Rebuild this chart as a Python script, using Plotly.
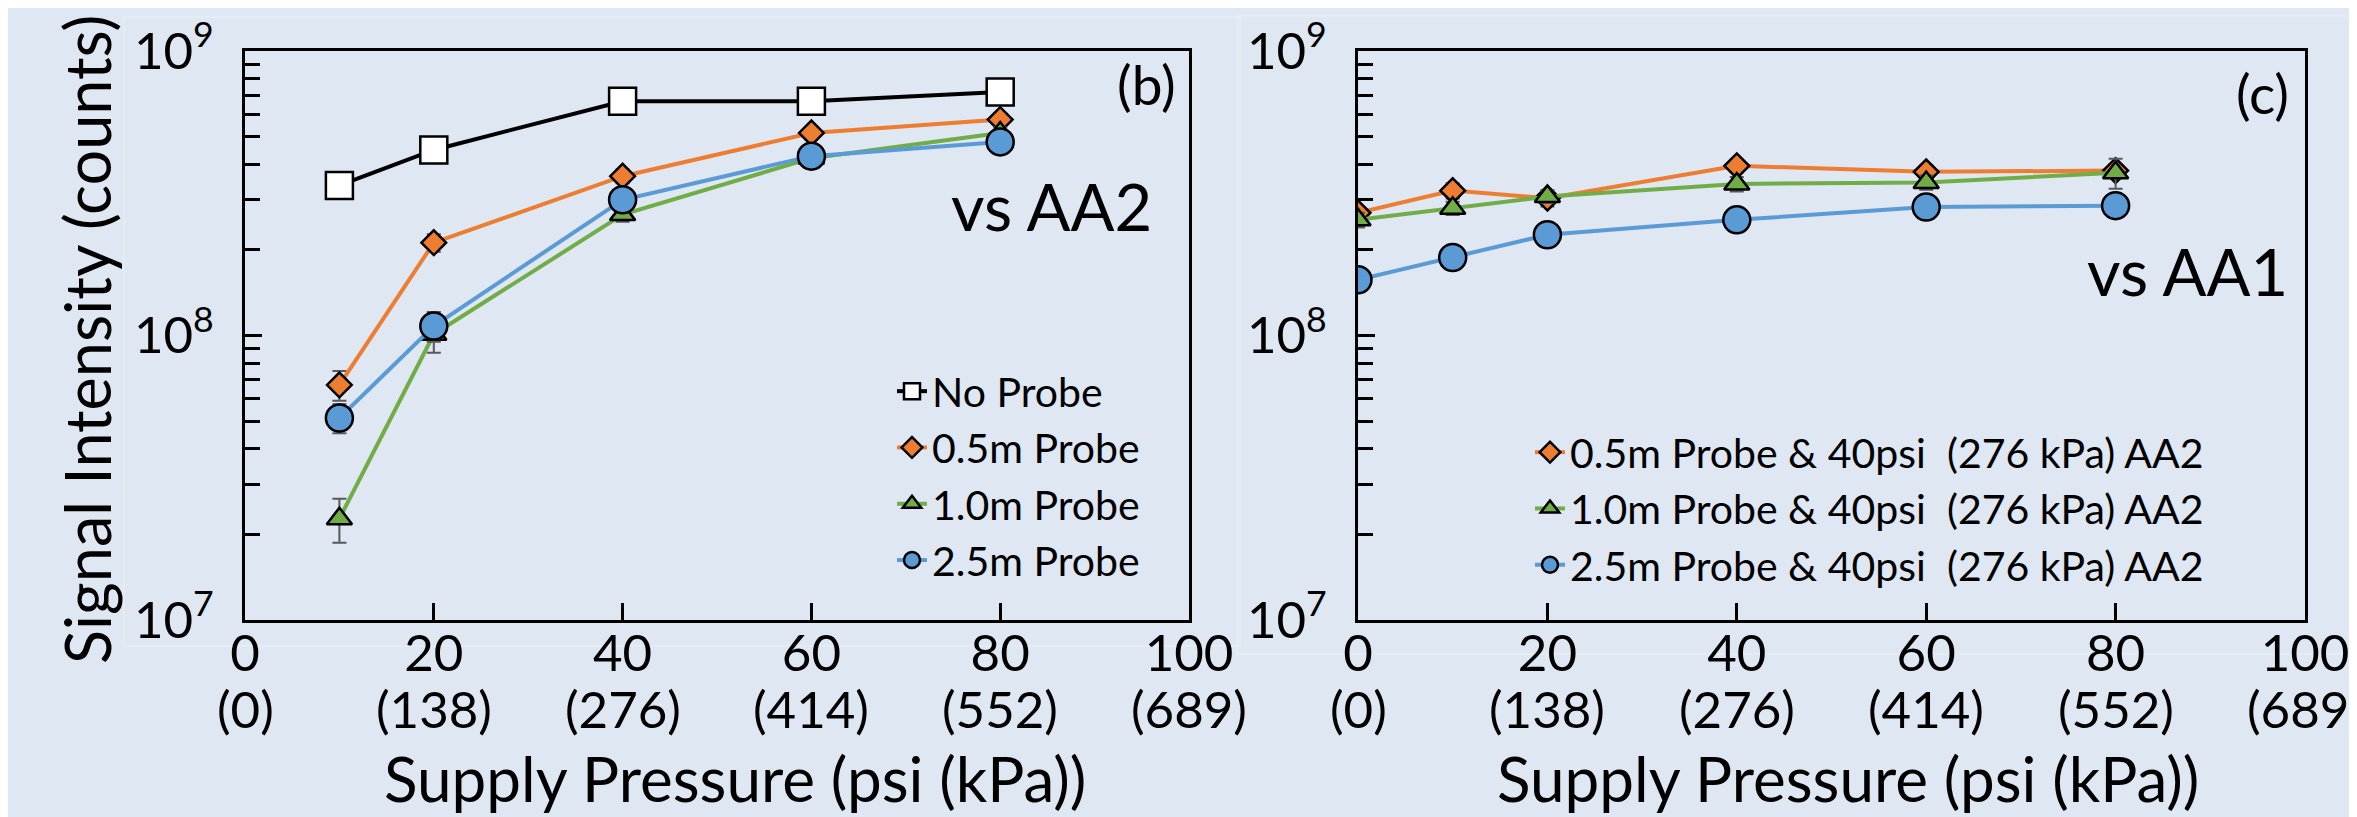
import plotly.graph_objects as go

# ---------------- data ----------------
x_left = [10, 20, 40, 60, 80]
no_probe = [3.37e8, 4.49e8, 6.66e8, 6.66e8, 7.18e8]
probe05_b = [6.7e7, 2.12e8, 3.63e8, 5.15e8, 5.74e8]
probe10_b = [2.27e7, 1.01e8, 2.66e8, 4.2e8, 5.15e8]
probe25_b = [5.13e7, 1.08e8, 3.0e8, 4.27e8, 4.79e8]
err05_b = [8e6, 1.5e7, 2e7, 2.5e7, 3e7]
err10_b = [4e6, 1.4e7, 1.5e7, 2.5e7, 2.5e7]
err25_b = [6e6, 1.3e7, 1.5e7, 2e7, 2e7]

x_right = [0, 10, 20, 40, 60, 80]
probe05_c = [2.7e8, 3.23e8, 3.04e8, 3.95e8, 3.76e8, 3.8e8]
probe10_c = [2.55e8, 2.8e8, 3.08e8, 3.41e8, 3.45e8, 3.73e8]
probe25_c = [1.57e8, 1.88e8, 2.26e8, 2.55e8, 2.83e8, 2.86e8]
err05_c = [3e7, 2e7, 2e7, 2e7, 2e7, 2e7]
err10_c = [1.5e7, 1.5e7, 1.5e7, 2e7, 2e7, 4.5e7]
err25_c = [1e7, 1e7, 1e7, 1e7, 1e7, 1e7]

names_b = ["No Probe", "0.5m Probe", "1.0m Probe", "2.5m Probe"]
names_c = ["0.5m Probe & 40psi", "1.0m Probe & 40psi", "2.5m Probe & 40psi"]
names_c_suffix = "(276 kPa) AA2"

x_tickvals = [0, 20, 40, 60, 80, 100]
x_ticktext = ["0", "20", "40", "60", "80", "100"]
x_kpa_text = ["(0)", "(138)", "(276)", "(414)", "(552)", "(689)"]
y_tickvals = [1e7, 1e8, 1e9]
y_ticktext = ["10<sup>7</sup>", "10<sup>8</sup>", "10<sup>9</sup>"]
y_minorvals = [m * 10 ** e for e in (7, 8) for m in range(2, 10)]

# ---------------- style ----------------
FONT = "Lato"
BG = "#dee7f2"
C_BLACK = "#000000"
C_ORANGE = "#ED7D31"
C_GREEN = "#70AD47"
C_BLUE = "#5B9BD5"
ERR_COLOR = "#595959"
W, H = 2357, 817

fig = go.Figure()


def add(x, y, err, name, color, symbol, size, fill, xa, ya, legend, group):
    fig.add_trace(go.Scatter(
        x=x, y=y, name=name, mode="lines+markers",
        line=dict(color=color, width=4),
        marker=dict(symbol=symbol, size=size, color=fill,
                    line=dict(color="black", width=2.5)),
        error_y=dict(type="data", array=err, visible=err is not None,
                     color=ERR_COLOR, thickness=2, width=7),
        xaxis=xa, yaxis=ya, legend=legend, legendgroup=group,
    ))


add(x_left, no_probe, None, names_b[0], C_BLACK, "square", 27, "white", "x", "y", "legend", "b0")
add(x_left, probe05_b, err05_b, names_b[1], C_ORANGE, "diamond", 19, C_ORANGE, "x", "y", "legend", "b1")
add(x_left, probe10_b, err10_b, names_b[2], C_GREEN, "triangle-up", 22, C_GREEN, "x", "y", "legend", "b2")
add(x_left, probe25_b, err25_b, names_b[3], C_BLUE, "circle", 27, C_BLUE, "x", "y", "legend", "b3")

gap = "\u00a0\u00a0"
add(x_right, probe05_c, err05_c, names_c[0] + gap + names_c_suffix, C_ORANGE, "diamond", 19, C_ORANGE, "x2", "y2", "legend2", "c1")
add(x_right, probe10_c, err10_c, names_c[1] + gap + names_c_suffix, C_GREEN, "triangle-up", 22, C_GREEN, "x2", "y2", "legend2", "c2")
add(x_right, probe25_c, err25_c, names_c[2] + gap + names_c_suffix, C_BLUE, "circle", 27, C_BLUE, "x2", "y2", "legend2", "c3")

xdom_b = [237 / W, 1181 / W]
xdom_c = [1350 / W, 2297 / W]
ydom = [1 - 612 / H, 1 - 43 / H]

tickfont = dict(family=FONT, size=51, color="black")


def xaxis(dom, anchor):
    return dict(domain=dom, anchor=anchor, range=[0, 100], tickmode="array",
                tickvals=x_tickvals, ticktext=x_ticktext, ticks="inside",
                ticklen=17, tickwidth=2.5, tickcolor="black",
                showline=True, linecolor="black", linewidth=3, mirror=True,
                showgrid=False, zeroline=False, tickfont=tickfont,
                ticklabelstandoff=-13, automargin=False)


def yaxis(anchor):
    return dict(domain=ydom, anchor=anchor, type="log", range=[7, 9],
                tickmode="array", tickvals=y_tickvals, ticktext=y_ticktext,
                ticks="inside", ticklen=17, tickwidth=2.5, tickcolor="black",
                minor=dict(tickvals=y_minorvals, ticks="inside", ticklen=15,
                           tickwidth=2.5, tickcolor="black", showgrid=False),
                showline=True, linecolor="black", linewidth=3, mirror=True,
                showgrid=False, zeroline=False, tickfont=tickfont,
                ticklabelstandoff=18, automargin=False)


annotations = []
for xref in ("x", "x2"):
    for v, t in zip(x_tickvals, x_kpa_text):
        annotations.append(dict(x=v, y=1 - 700 / H, xref=xref, yref="paper",
                                text=t, showarrow=False, xanchor="center",
                                yanchor="middle", font=tickfont))

title_font = dict(family=FONT, size=62, color="black")
annotations += [
    dict(x=727 / W, y=1 - 770 / H, xref="paper", yref="paper",
         text="Supply Pressure (psi (kPa))", showarrow=False,
         xanchor="center", yanchor="middle", font=title_font),
    dict(x=1840 / W, y=1 - 770 / H, xref="paper", yref="paper",
         text="Supply Pressure (psi (kPa))", showarrow=False,
         xanchor="center", yanchor="middle", font=title_font),
    dict(x=78 / W, y=1 - 332 / H, xref="paper", yref="paper",
         text="Signal Intensity (counts)", showarrow=False, textangle=-90,
         xanchor="center", yanchor="middle",
         font=dict(family=FONT, size=63, color="black")),
    dict(x=1170 / W, y=1 - 76 / H, xref="paper", yref="paper", text="(b)",
         showarrow=False, xanchor="right", yanchor="middle",
         font=dict(family=FONT, size=55, color="black")),
    dict(x=2283 / W, y=1 - 85 / H, xref="paper", yref="paper", text="(c)",
         showarrow=False, xanchor="right", yanchor="middle",
         font=dict(family=FONT, size=55, color="black")),
    dict(x=1146 / W, y=1 - 198 / H, xref="paper", yref="paper", text="vs AA2",
         showarrow=False, xanchor="right", yanchor="middle",
         font=dict(family=FONT, size=65, color="black")),
    dict(x=2282 / W, y=1 - 263 / H, xref="paper", yref="paper", text="vs AA1",
         showarrow=False, xanchor="right", yanchor="middle",
         font=dict(family=FONT, size=65, color="black")),
]

shapes = [
    dict(type="rect", xref="paper", yref="paper", x0=116 / W, x1=1232 / W,
         y0=1 - 638 / H, y1=1 - 9 / H, line=dict(color="#ebf0f7", width=1),
         layer="below"),
    dict(type="rect", xref="paper", yref="paper", x0=1229 / W, x1=1.01,
         y0=1 - 646 / H, y1=1 - 8 / H, line=dict(color="#ebf0f7", width=1),
         layer="below"),
]

legend_font = dict(family=FONT, size=41, color="black")
fig.update_layout(
    width=W, height=H, autosize=False,
    margin=dict(l=0, r=0, t=0, b=0, autoexpand=False),
    paper_bgcolor=BG, plot_bgcolor=BG,
    font=dict(family=FONT, color="black"),
    xaxis=xaxis(xdom_b, "y"), yaxis=yaxis("x"),
    xaxis2=xaxis(xdom_c, "y2"), yaxis2=yaxis("x2"),
    legend=dict(x=884 / W, y=1 - 350 / H, xanchor="left", yanchor="top",
                bgcolor="rgba(0,0,0,0)", font=legend_font, tracegroupgap=0,
                itemwidth=30),
    legend2=dict(x=1522 / W, y=1 - 411 / H, xanchor="left", yanchor="top",
                 bgcolor="rgba(0,0,0,0)", font=legend_font, tracegroupgap=0,
                 itemwidth=30),
    showlegend=True,
    annotations=annotations,
    shapes=shapes,
)

fig.write_html("out.html")
